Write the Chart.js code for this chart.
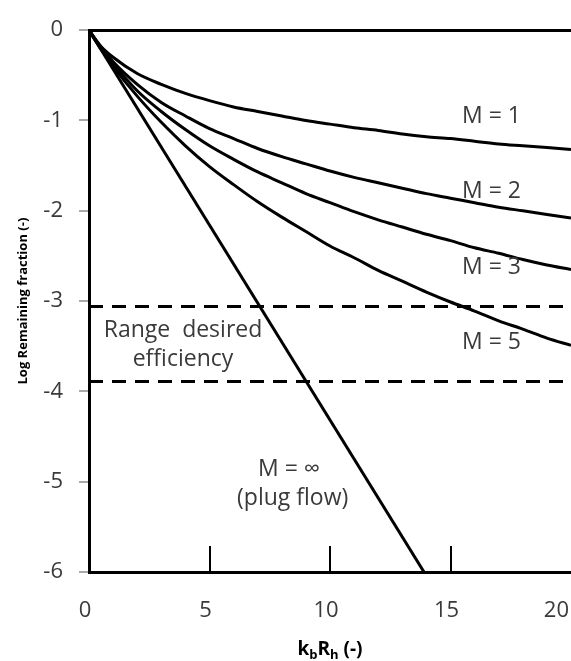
<!DOCTYPE html>
<html>
<head>
<meta charset="utf-8">
<script src="https://cdn.jsdelivr.net/npm/chart.js@4.4.1/dist/chart.umd.min.js"></script>
<style>
body { margin: 0; background: #fff; }
#wrap { width: 571px; height: 661px; }
</style>
</head>
<body>
<div id="wrap"><canvas id="chart"></canvas></div>
<script>
// kbRh values where the curves were read
const kR = [0, 0.5, 1, 2, 3, 4, 5, 6, 7, 8, 9, 10, 11, 12, 13, 14, 15, 16, 17, 18, 19, 20];

// log remaining fraction, one array per number of tanks M
const m1 = [0, -0.18, -0.30, -0.48, -0.60, -0.70, -0.78, -0.85, -0.90, -0.95, -1.00, -1.04, -1.08, -1.11, -1.15, -1.18, -1.20, -1.23, -1.26, -1.28, -1.30, -1.32];
const m2 = [0, -0.19, -0.35, -0.60, -0.80, -0.95, -1.09, -1.20, -1.31, -1.40, -1.48, -1.56, -1.63, -1.69, -1.75, -1.81, -1.86, -1.91, -1.96, -2.00, -2.04, -2.08];
const m3 = [0, -0.20, -0.37, -0.67, -0.90, -1.10, -1.28, -1.43, -1.57, -1.69, -1.81, -1.91, -2.01, -2.10, -2.18, -2.26, -2.33, -2.41, -2.47, -2.54, -2.60, -2.65];
const m5 = [0, -0.21, -0.40, -0.73, -1.02, -1.28, -1.51, -1.71, -1.90, -2.07, -2.23, -2.39, -2.52, -2.66, -2.78, -2.90, -3.01, -3.11, -3.22, -3.31, -3.41, -3.49];

// plug flow (M = infinity) is a straight line
const plugX = [0, 13.9];
const plugY = [0, -6];

// desired efficiency band
const rangeTop = -3.06;
const rangeBottom = -3.89;

const xTicks = [0, 5, 10, 15, 20];

const notes = [
  { text: 'M = 1', x: 16.7, y: -0.95 },
  { text: 'M = 2', x: 16.7, y: -1.79 },
  { text: 'M = 3', x: 16.7, y: -2.63 },
  { text: 'M = 5', x: 16.7, y: -3.46 },
  { text: 'Range  desired', x: 3.9, y: -3.33 },
  { text: 'efficiency', x: 3.9, y: -3.65 },
  { text: 'M = \u221E', x: 8.3, y: -4.86 },
  { text: '(plug flow)', x: 8.45, y: -5.19 },
];

const pts = (xs, ys) => xs.map((x, i) => ({ x: x, y: ys[i] }));

const curve = (ys) => ({
  data: pts(kR, ys),
  borderColor: '#000',
  borderWidth: 3,
  pointRadius: 0,
  cubicInterpolationMode: 'monotone',
});

const dashed = (y) => ({
  data: [{ x: 0, y: y }, { x: 20, y: y }],
  borderColor: '#000',
  borderWidth: 3,
  borderDash: [14, 9],
  pointRadius: 0,
});

const textColor = '#3a3a3a';
const font = '"Open Sans", sans-serif';

const extras = {
  id: 'extras',
  afterDraw(chart) {
    const ctx = chart.ctx;
    const xs = chart.scales.x;
    const ys = chart.scales.y;
    const area = chart.chartArea;
    const bottom = area.bottom;
    ctx.save();

    // inward tick marks on the bottom axis
    ctx.strokeStyle = '#000';
    ctx.lineWidth = 2;
    xTicks.forEach(v => {
      if (v === 0 || v === 20) return;
      const px = Math.round(xs.getPixelForValue(v));
      ctx.beginPath();
      ctx.moveTo(px, bottom);
      ctx.lineTo(px, bottom - 26);
      ctx.stroke();
    });

    // small outward marks on the left axis
    ctx.strokeStyle = '#8c8c8c';
    ctx.lineWidth = 1.5;
    for (let v = -6; v <= 0; v++) {
      const py = Math.round(ys.getPixelForValue(v));
      ctx.beginPath();
      ctx.moveTo(area.left - 10, py);
      ctx.lineTo(area.left - 1, py);
      ctx.stroke();
    }

    // x tick labels
    ctx.fillStyle = textColor;
    ctx.font = '22px ' + font;
    ctx.textAlign = 'center';
    ctx.textBaseline = 'middle';
    xTicks.forEach(v => {
      const label = String(v);
      const w = ctx.measureText(label).width;
      let px = xs.getPixelForValue(v) - 4;
      px = Math.min(px, chart.width - w / 2 - 2);
      ctx.fillText(label, px, bottom + 39);
    });

    // notes inside the plot
    ctx.font = '23px ' + font;
    notes.forEach(n => {
      ctx.fillText(n.text, xs.getPixelForValue(n.x), ys.getPixelForValue(n.y));
    });

    // x axis title with subscripts
    const parts = [
      { t: 'k', sub: false }, { t: 'b', sub: true },
      { t: 'R', sub: false }, { t: 'h', sub: true },
      { t: ' (-)', sub: false },
    ];
    const big = 'bold 19px ' + font;
    const small = 'bold 13px ' + font;
    let total = 0;
    parts.forEach(p => {
      ctx.font = p.sub ? small : big;
      total += ctx.measureText(p.t).width;
    });
    let cx = (area.left + area.right) / 2 - total / 2;
    const base = 655;
    ctx.textAlign = 'left';
    ctx.textBaseline = 'alphabetic';
    ctx.fillStyle = '#000';
    parts.forEach(p => {
      ctx.font = p.sub ? small : big;
      ctx.fillText(p.t, cx, p.sub ? base + 4 : base);
      cx += ctx.measureText(p.t).width;
    });
    ctx.restore();
  }
};

new Chart(document.getElementById('chart'), {
  type: 'line',
  data: {
    datasets: [
      curve(m1),
      curve(m2),
      curve(m3),
      curve(m5),
      {
        data: pts(plugX, plugY),
        borderColor: '#000',
        borderWidth: 3,
        pointRadius: 0,
      },
      dashed(rangeTop),
      dashed(rangeBottom),
    ]
  },
  options: {
    responsive: true,
    maintainAspectRatio: false,
    animation: false,
    layout: { padding: { top: 17, right: 0, left: 0, bottom: 0 } },
    plugins: {
      legend: { display: false },
      tooltip: { enabled: false },
    },
    scales: {
      x: {
        type: 'linear',
        min: 0,
        max: 20,
        ticks: { display: false, stepSize: 5 },
        grid: { drawOnChartArea: false, drawTicks: false },
        border: { color: '#000', width: 3 },
        afterFit(scale) {
          scale.height = 89;
          scale.paddingLeft = 0;
          scale.paddingRight = 0;
        },
      },
      y: {
        min: -6,
        max: 0,
        ticks: {
          stepSize: 1,
          color: textColor,
          padding: 17,
          font: { family: font, size: 22 },
        },
        grid: {
          color: c => (c.tick && c.tick.value === 0 ? '#000' : 'rgba(0,0,0,0)'),
          lineWidth: c => (c.tick && c.tick.value === 0 ? 3 : 1),
          tickColor: 'rgba(0,0,0,0)',
          tickLength: 9,
        },
        border: { color: '#000', width: 3 },
        title: {
          display: true,
          text: 'Log Remaining fraction (-)',
          color: '#000',
          font: { family: font, size: 13, weight: 'bold' },
          padding: { top: 15, bottom: 0 },
        },
        afterFit(scale) {
          scale.width = 89;
        },
      },
    },
  },
  plugins: [extras],
});
</script>
</body>
</html>
